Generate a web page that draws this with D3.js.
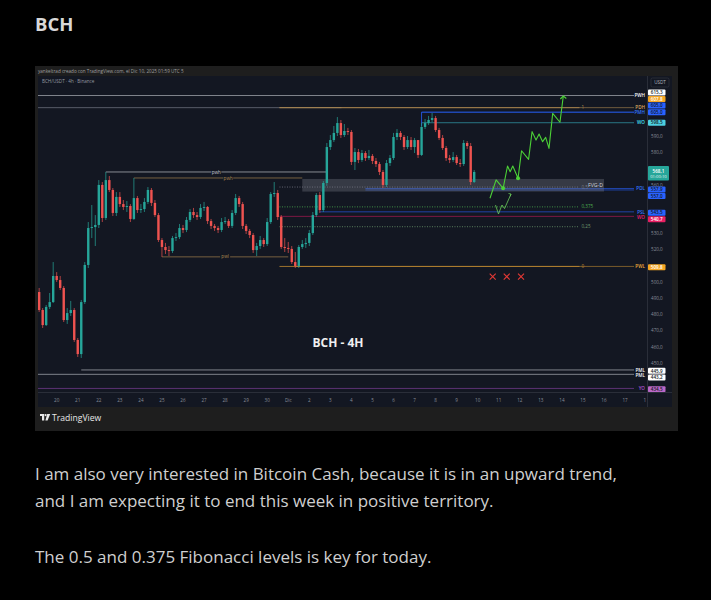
<!DOCTYPE html>
<html>
<head>
<meta charset="UTF-8">
<style>
  body { margin: 0; background: #000; }
  svg { display: block; }
</style>
</head>
<body>
<svg id="page" width="711" height="600"></svg>
<script src="https://d3js.org/d3.v7.min.js"></script>
<script>
// ---------- data ----------
// 4h candles of BCH/USDT, first one at 2025-11-19 04:00 UTC; open = previous close
const candleStart = Date.UTC(2025, 10, 19, 4);
const firstOpen = 494.0;
const closes = [
  482.9, 473.6, 484.8, 487.8, 503.9, 501.4, 496.5, 476.7, 481.0, 482.9,
  464.4, 455.7, 487.8, 510.7, 533.5, 534.1, 535.4, 560.1, 539.7, 563.1,
  557.0, 542.8, 552.7, 548.3, 546.5, 547.1, 539.1, 552.0, 544.6, 545.2,
  549.6, 557.0, 549.0, 541.5, 526.1, 521.8, 519.9, 519.3, 527.3, 527.9,
  533.5, 532.3, 538.5, 543.4, 541.5, 540.3, 545.9, 546.5, 537.8, 534.8,
  533.5, 532.3, 537.2, 537.8, 534.8, 542.8, 552.0, 548.3, 534.8, 531.7,
  529.2, 519.9, 522.4, 526.1, 523.6, 537.2, 554.5, 555.1, 540.3, 521.8,
  521.2, 520.6, 512.5, 510.1, 521.8, 523.6, 524.3, 530.4, 541.5, 553.9,
  544.6, 561.3, 583.5, 587.8, 592.2, 598.3, 590.9, 593.4, 592.8, 574.3,
  580.4, 575.5, 579.8, 576.7, 578.0, 574.9, 573.0, 568.1, 560.1, 573.6,
  576.7, 589.7, 592.2, 589.7, 583.5, 587.8, 583.5, 587.8, 578.6, 595.9,
  598.3, 600.2, 601.4, 594.0, 589.1, 582.9, 576.7, 575.5, 577.3, 573.6,
  573.0, 586.0, 584.1, 561.9, 568.1];
const highs = [
  496.5, 484.1, 486.0, 493.4, 512.5, 506.3, 503.9, 497.7, 484.1, 488.5,
  484.1, 465.6, 489.1, 512.5, 537.2, 547.7, 541.5, 563.1, 561.9, 568.1,
  565.6, 558.2, 555.7, 555.7, 550.8, 550.2, 548.3, 564.4, 553.3, 548.3,
  552.0, 558.8, 558.2, 550.8, 542.8, 527.3, 524.3, 522.4, 528.6, 530.4,
  536.0, 535.4, 540.3, 545.2, 545.9, 543.4, 548.3, 549.6, 547.1, 539.1,
  536.0, 534.8, 539.7, 540.3, 539.1, 544.6, 554.5, 553.3, 549.6, 536.0,
  532.9, 530.4, 524.3, 528.6, 527.3, 539.7, 555.7, 561.9, 557.0, 541.5,
  527.3, 524.9, 522.4, 518.7, 523.0, 526.1, 527.3, 532.3, 543.4, 555.1,
  555.7, 562.5, 586.0, 590.9, 596.5, 602.0, 600.2, 597.7, 595.3, 594.0,
  582.9, 582.3, 581.7, 581.0, 581.7, 579.2, 576.7, 574.3, 569.3, 575.5,
  578.6, 592.2, 594.6, 593.4, 590.9, 590.3, 589.7, 589.1, 587.8, 598.3,
  600.8, 602.7, 604.5, 602.7, 595.3, 590.9, 584.1, 578.6, 580.4, 578.6,
  576.1, 587.8, 587.2, 586.0, 569.3];
const lows = [
  481.7, 471.8, 473.0, 483.5, 487.2, 500.2, 495.2, 475.5, 474.3, 479.2,
  463.2, 453.9, 453.3, 486.6, 508.8, 527.3, 522.4, 533.5, 537.2, 538.5,
  555.7, 540.9, 540.9, 546.5, 544.6, 543.4, 537.2, 538.5, 542.8, 542.8,
  543.4, 548.3, 547.1, 540.3, 524.9, 515.6, 517.5, 516.2, 518.1, 525.5,
  526.7, 530.4, 531.0, 537.2, 539.7, 538.5, 539.1, 544.0, 536.0, 532.9,
  531.7, 530.4, 531.0, 536.0, 533.5, 533.5, 541.5, 546.5, 532.9, 529.8,
  527.3, 518.1, 516.2, 520.6, 521.8, 522.4, 536.0, 552.7, 538.5, 520.6,
  518.7, 518.1, 511.3, 508.8, 508.8, 520.6, 521.2, 522.4, 529.2, 540.3,
  542.8, 543.4, 559.5, 581.7, 586.6, 590.3, 589.1, 589.7, 590.9, 572.4,
  569.3, 573.6, 574.3, 574.9, 575.5, 573.0, 571.2, 566.2, 558.2, 558.8,
  571.8, 575.5, 587.8, 587.8, 581.7, 582.3, 581.7, 579.8, 576.7, 578.0,
  594.6, 597.1, 598.9, 592.8, 587.8, 581.7, 574.9, 573.6, 574.3, 572.4,
  571.2, 571.8, 582.3, 560.1, 561.3];

// key levels drawn by the indicator (price, tag, where the line starts)
const levelPrices = [615.3, 607.8, 605.0, 605.0, 598.5, 557.9, 557.0, 543.5, 540.7, 509.8, 445.9, 443.2, 434.5];
const levelTags   = ["PWH", "PDH", "PMH", "", "WO", "PDL", "", "PSL", "WO", "PWL", "PML", "PML", "YO"];
const levelStarts = [null, "2025-11-30T14:00Z", "2025-12-07T08:00Z", "2025-12-07T08:00Z", "2025-12-07T08:00Z",
  "2025-12-04T16:00Z", "2025-12-04T16:00Z", "2025-12-02T12:00Z", "2025-11-30T14:00Z", "2025-12-01T08:00Z",
  "2025-11-21T04:00Z", null, null];
const lastPrice = 568.1;
const countdown = "01:00:10";

// older weekly levels on the left
const oldTags   = ["pwh", "pwh", "pwl"];
const oldPrices = [568.1, 564.4, 515.7];
const oldStarts = ["2025-11-22T08:00Z", "2025-11-23T16:00Z", "2025-11-25T00:00Z"];
const oldEnds   = ["2025-12-02T20:00Z", "2025-12-01T16:00Z", "2025-12-01T00:00Z"];

// fibonacci retracement 509.8 -> 607.8
const fibLow = 509.8, fibHigh = 607.8;
const fibLevels = [1, 0.5, 0.375, 0.25, 0];
const fibStart = "2025-11-30T14:00Z", fibEnd = "2025-12-14T20:00Z";

// FVG zone
const fvgTop = 563.8, fvgBottom = 556.0;
const fvgStart = "2025-12-01T16:00Z", fvgEnd = "2025-12-16T00:00Z";

// projected path (hours after 2025-12-10 00:00 UTC, price)
const projHours  = [14, 21, 29, 34, 37, 40, 46, 50, 58, 62, 66.5, 70, 74, 77.5, 81.3, 85.5, 93.8, 97.6];
const projPrices = [551.9, 563.2, 558.0, 571.8, 568.3, 571.8, 564.2, 581.2, 575.9, 593.0, 587.8, 591.5, 586.8, 589.5, 582.7, 604.3, 598.8, 615.0];
const projDots = [2, 6];
const altHours  = [20.3, 23.7, 27.7, 30.6, 38.0];
const altPrices = [547.7, 542.2, 547.7, 545.5, 554.5];
const crossHours = [17.1, 33.1, 49.4];
const crossPrice = 503.5;

// axes
const priceTicks = [590, 580, 560, 530, 520, 500, 490, 480, 470, 460, 450];
const dayLabels = ["20", "21", "22", "23", "24", "25", "26", "27", "28", "29", "30", "Dic",
  "2", "3", "4", "5", "6", "7", "8", "9", "10", "11", "12", "13", "14", "15", "16", "17", "18"];

const headerText = "yankeltrad creado con TradingView.com, el Dic 10, 2025 01:59 UTC 5";
const symbolText = "BCH/USDT · 4h · Binance";
const titleText = "BCH";
const bodyLines = [
  "I am also very interested in Bitcoin Cash, because it is in an upward trend,",
  "and I am expecting it to end this week in positive territory.",
  "The 0.5 and 0.375 Fibonacci levels is key for today."
];

// ---------- drawing ----------
const svg = d3.select("#page");
const font = "'Open Sans', 'Noto Sans', sans-serif";
const HOUR = 3600e3, DAY = 24 * HOUR;
const up = "#26a69a", down = "#ef5350";

svg.append("rect").attr("width", 711).attr("height", 600).attr("fill", "#000");

svg.append("text").attr("x", 35).attr("y", 31)
  .attr("font-family", font).attr("font-weight", 700).attr("font-size", 18.5)
  .attr("fill", "#d8d8d8").text(titleText);

// card + chart panel
svg.append("rect").attr("x", 35).attr("y", 66).attr("width", 643).attr("height", 365).attr("fill", "#1e1e1e");
svg.append("rect").attr("x", 38).attr("y", 76).attr("width", 634).attr("height", 331).attr("fill", "#131722");

svg.append("text").attr("x", 38).attr("y", 73).attr("font-family", font).attr("font-size", 4.6)
  .attr("fill", "#a0a0a0").text(headerText);

const plot = { x0: 38, x1: 647, y0: 76, y1: 392 };
const x = d3.scaleUtc()
  .domain([Date.UTC(2025, 10, 20), Date.UTC(2025, 11, 18)])
  .range([56.7, 646.1]);
const y = d3.scaleLinear().domain([450, 590]).range([363.3, 136.5]);
const t = s => s ? new Date(s) : null;

svg.append("clipPath").attr("id", "clip").append("rect")
  .attr("x", plot.x0).attr("y", plot.y0).attr("width", plot.x1 - plot.x0).attr("height", plot.y1 - plot.y0);
const g = svg.append("g").attr("clip-path", "url(#clip)");

svg.append("text").attr("x", 42).attr("y", 83).attr("font-family", font).attr("font-size", 4.6)
  .attr("fill", "#9598a1").text(symbolText);

// key level lines
const levelStyle = {
  "615.3": "#c9ccd4", "607.8": "#b08a50", "605": "#2962ff", "598.5": "#36b6c8",
  "557.9": "#2962ff", "557": "#2962ff", "543.5": "#2962ff", "540.7": "#c2185b",
  "509.8": "#c08a30", "445.9": "#c9ccd4", "443.2": "#c9ccd4", "434.5": "#8e44ad"
};
const tagEnd = 634;
const levels = levelPrices.map((p, i) => ({ p, tag: levelTags[i], start: t(levelStarts[i]), color: levelStyle[String(p)] }));

// gray line on the 607.8 level over the whole left side
g.append("line").attr("x1", plot.x0).attr("x2", x(t(fibStart)) + 62).attr("y1", y(607.8)).attr("y2", y(607.8))
  .attr("stroke", "#6a6d78").attr("stroke-width", 0.8);

g.selectAll("line.level").data(levels).join("line").attr("class", "level")
  .attr("x1", d => d.start ? x(d.start) : plot.x0).attr("x2", tagEnd)
  .attr("y1", d => y(d.p)).attr("y2", d => y(d.p))
  .attr("stroke", d => d.color).attr("stroke-opacity", 0.75).attr("stroke-width", 0.8);

// vertical anchor of the 605 / 598.5 box
g.append("line").attr("x1", x(t(levelStarts[2]))).attr("x2", x(t(levelStarts[2])))
  .attr("y1", y(605)).attr("y2", y(596.5)).attr("stroke", "#2962ff").attr("stroke-width", 0.8);

// the last price, split into the stacks above and below it
const yLast = y(lastPrice);
function stackAway(items, key, gap, nudge) {
  const above = items.filter(d => d.y0 < yLast).sort((a, b) => b.y0 - a.y0);
  const below = items.filter(d => d.y0 >= yLast).sort((a, b) => a.y0 - b.y0);
  above.forEach((d, i) => { d[key] = i ? Math.min(d.y0, above[i - 1][key] - gap) : d.y0; });
  below.forEach((d, i) => { d[key] = i ? Math.max(d.y0 + nudge, below[i - 1][key] + gap) : d.y0 + nudge; });
}

const tags = levels.filter(d => d.tag).map(d => ({ ...d, y0: y(d.p) }));
stackAway(tags, "ty", 5, 0);
g.selectAll("text.tag").data(tags).join("text").attr("class", "tag")
  .attr("x", 645).attr("y", d => d.ty + 1.7).attr("text-anchor", "end")
  .attr("font-family", font).attr("font-size", 4.6).attr("font-weight", 600)
  .attr("fill", d => d3.color(d.color).brighter(0.6)).text(d => d.tag);

// old weekly levels
const oldColor = ["#c9ccd4", "#b08a50", "#b08a50"];
oldTags.forEach((tag, i) => {
  const yy = y(oldPrices[i]), xa = x(t(oldStarts[i])), xb = x(t(oldEnds[i]));
  const xm = i === 1 ? xa + (xb - xa) * 0.56 : (xa + xb) / 2;
  g.append("line").attr("x1", xa).attr("x2", xb).attr("y1", yy).attr("y2", yy)
    .attr("stroke", oldColor[i]).attr("stroke-opacity", 0.8).attr("stroke-width", 0.8);
  g.append("rect").attr("x", xm - 5).attr("y", yy - 2.5).attr("width", 10).attr("height", 5).attr("fill", "#131722");
  g.append("text").attr("x", xm).attr("y", yy + 1.6).attr("text-anchor", "middle")
    .attr("font-family", font).attr("font-size", 4.6).attr("fill", oldColor[i]).text(tag);
});

// fibonacci levels
const fibStyle = { 1: ["#b08a50", null], 0.5: ["#787b86", "1,1.5"], 0.375: ["#4caf50", "1,1.5"], 0.25: ["#6f9a6f", "1,1.5"], 0: ["#c08a30", null] };
fibLevels.forEach(f => {
  const p = fibLow + f * (fibHigh - fibLow);
  const [col, dash] = fibStyle[f];
  g.append("line").attr("x1", x(t(fibStart))).attr("x2", x(t(fibEnd)))
    .attr("y1", y(p)).attr("y2", y(p)).attr("stroke", col).attr("stroke-width", 0.8)
    .attr("stroke-dasharray", dash);
  g.append("text").attr("x", x(t(fibEnd)) + 2).attr("y", y(p) + 1.6)
    .attr("font-family", font).attr("font-size", 4.6).attr("fill", col).text(String(f).replace(/^0\./, "0,"));
});

// FVG zone
g.append("rect").attr("x", x(t(fvgStart))).attr("width", x(t(fvgEnd)) - x(t(fvgStart)))
  .attr("y", y(fvgTop)).attr("height", y(fvgBottom) - y(fvgTop))
  .attr("fill", "#787b86").attr("fill-opacity", 0.35);
g.append("text").attr("x", x(t(fvgEnd)) - 1).attr("y", y((fvgTop + fvgBottom) / 2) + 1.8)
  .attr("text-anchor", "end").attr("font-family", font).attr("font-size", 5.2).attr("fill", "#d1d4dc").text("FVG-D");

// candles
const candles = closes.map((c, i) => ({
  t: new Date(candleStart + i * 4 * HOUR),
  o: i === 0 ? firstOpen : closes[i - 1], h: highs[i], l: lows[i], c
}));
const bw = 2.4;
g.selectAll("line.wick").data(candles).join("line").attr("class", "wick")
  .attr("x1", d => x(d.t)).attr("x2", d => x(d.t))
  .attr("y1", d => y(d.h)).attr("y2", d => y(d.l))
  .attr("stroke", d => d.c >= d.o ? up : down).attr("stroke-width", 0.7);
g.selectAll("rect.body").data(candles).join("rect").attr("class", "body")
  .attr("x", d => x(d.t) - bw / 2).attr("width", bw)
  .attr("y", d => y(Math.max(d.o, d.c)))
  .attr("height", d => Math.max(0.8, Math.abs(y(d.o) - y(d.c))))
  .attr("fill", d => d.c >= d.o ? up : down);

// projection
const projBase = Date.UTC(2025, 11, 10);
const pt = (h, p) => [x(new Date(projBase + h * HOUR)), y(p)];
const proj = projHours.map((h, i) => pt(h, projPrices[i]));
g.append("path").attr("d", d3.line()(proj)).attr("fill", "none")
  .attr("stroke", "#4cd137").attr("stroke-width", 1.1).attr("stroke-linejoin", "round");
const tip = proj[proj.length - 1];
g.append("path").attr("d", `M${tip[0] - 3},${tip[1] + 3} L${tip[0]},${tip[1]} L${tip[0] + 3},${tip[1] + 2.5}`)
  .attr("fill", "none").attr("stroke", "#4cd137").attr("stroke-width", 1.1);
projDots.forEach(i => g.append("circle").attr("cx", proj[i][0]).attr("cy", proj[i][1]).attr("r", 2).attr("fill", "#4cd137"));

const alt = altHours.map((h, i) => pt(h, altPrices[i]));
g.append("path").attr("d", d3.line()(alt)).attr("fill", "none")
  .attr("stroke", "#6ccf5a").attr("stroke-width", 0.8);
const at = alt[alt.length - 1];
g.append("path").attr("d", `M${at[0] - 2.5},${at[1] - 0.5} L${at[0]},${at[1]} L${at[0] - 0.8},${at[1] + 2.4}`)
  .attr("fill", "none").attr("stroke", "#6ccf5a").attr("stroke-width", 0.8);

crossHours.forEach(h => {
  const [cx, cy] = pt(h, crossPrice);
  g.append("path").attr("d", `M${cx - 3},${cy - 3}L${cx + 3},${cy + 3}M${cx - 3},${cy + 3}L${cx + 3},${cy - 3}`)
    .attr("stroke", "#e53935").attr("stroke-width", 1.1);
});

// caption on the chart
svg.append("text").attr("x", 338).attr("y", 347).attr("text-anchor", "middle")
  .attr("font-family", font).attr("font-weight", 700).attr("font-size", 12)
  .attr("fill", "#f0f0f0").text("BCH - 4H");

// price axis
svg.append("rect").attr("x", plot.x1).attr("y", plot.y0).attr("width", 672 - plot.x1).attr("height", 331).attr("fill", "#131722");
svg.append("line").attr("x1", plot.x1 + 0.5).attr("x2", plot.x1 + 0.5).attr("y1", plot.y0).attr("y2", 407)
  .attr("stroke", "#2a2e39").attr("stroke-width", 1);
svg.append("rect").attr("x", 651).attr("y", 78).attr("width", 18).attr("height", 9).attr("rx", 1.5)
  .attr("fill", "#131722").attr("stroke", "#363a45").attr("stroke-width", 0.6);
svg.append("text").attr("x", 660).attr("y", 84.2).attr("text-anchor", "middle")
  .attr("font-family", font).attr("font-size", 4.6).attr("fill", "#b2b5be").text("USDT");

svg.append("g").selectAll("text").data(priceTicks).join("text")
  .attr("x", 651).attr("y", d => y(d) + 1.5)
  .attr("font-family", font).attr("font-size", 4.6).attr("fill", "#8a8e99").text(d => d.toFixed(1).replace(".", ","));

// price labels, pushed apart away from the last price
const boxH = 6.6;
const boxes = levels.map(d => ({ ...d, y0: y(d.p) }));
stackAway(boxes, "ly", boxH, 0.9);
const darkText = c => d3.hsl(c).l > 0.55;
const boxFill = { "615.3": "#ffffff", "607.8": "#f5a623", "598.5": "#4dd0e1", "540.7": "#e91e63",
  "509.8": "#f5a623", "445.9": "#ffffff", "443.2": "#ffffff", "434.5": "#ba68c8" };
const lab = svg.append("g");
boxes.forEach(d => {
  const fill = boxFill[String(d.p)] || "#2962ff";
  lab.append("rect").attr("x", 648).attr("y", d.ly - boxH / 2 + 0.3).attr("width", 17.5).attr("height", boxH - 0.6)
    .attr("rx", 1).attr("fill", fill);
  lab.append("text").attr("x", 656.7).attr("y", d.ly + 1.7).attr("text-anchor", "middle")
    .attr("font-family", font).attr("font-size", 4.6).attr("font-weight", 600)
    .attr("fill", darkText(fill) ? "#131722" : "#ffffff").text(d.p.toFixed(1).replace(".", ","));
});
lab.append("rect").attr("x", 648).attr("y", yLast - 6).attr("width", 21).attr("height", 14.5).attr("rx", 1).attr("fill", up);
lab.append("text").attr("x", 658.5).attr("y", yLast + 1.2).attr("text-anchor", "middle")
  .attr("font-family", font).attr("font-size", 4.6).attr("font-weight", 600).attr("fill", "#fff")
  .text(lastPrice.toFixed(1).replace(".", ","));
lab.append("text").attr("x", 658.5).attr("y", yLast + 6.4).attr("text-anchor", "middle")
  .attr("font-family", font).attr("font-size", 4.2).attr("fill", "#e8f5f3").text(countdown);

// time axis
svg.append("line").attr("x1", plot.x0).attr("x2", 672).attr("y1", plot.y1 + 0.5).attr("y2", plot.y1 + 0.5)
  .attr("stroke", "#2a2e39").attr("stroke-width", 1);
svg.append("clipPath").attr("id", "clipT").append("rect").attr("x", plot.x0).attr("y", plot.y1).attr("width", 646 - plot.x0).attr("height", 15);
const tAxis = svg.append("g").attr("clip-path", "url(#clipT)");
tAxis.selectAll("text").data(dayLabels).join("text")
  .attr("x", (d, i) => x(new Date(Date.UTC(2025, 10, 20) + i * DAY)))
  .attr("y", 401.6).attr("text-anchor", "middle")
  .attr("font-family", font).attr("font-size", 4.6).attr("fill", "#8a8e99").text(d => d);

// footer logo
const logo = svg.append("g").attr("transform", "translate(40,414)").attr("fill", "#e8e8e8");
logo.append("path").attr("d", "M0,0 H4.2 V6.5 H2 V2 H0 Z");
logo.append("circle").attr("cx", 5.6).attr("cy", 1.1).attr("r", 1.1);
logo.append("path").attr("d", "M7.2,0 H10.2 L7.6,6.5 H5.4 Z");
svg.append("text").attr("x", 52).attr("y", 420.8)
  .attr("font-family", font).attr("font-size", 8.6).attr("font-weight", 500)
  .attr("fill", "#e8e8e8").text("TradingView");

// article text
const para = svg.append("g").attr("font-family", font).attr("font-size", 17).attr("fill", "#cfcfcf");
para.append("text").attr("x", 35).attr("y", 480).text(bodyLines[0]);
para.append("text").attr("x", 35).attr("y", 507).text(bodyLines[1]);
para.append("text").attr("x", 35).attr("y", 563).text(bodyLines[2]);
</script>
</body>
</html>
